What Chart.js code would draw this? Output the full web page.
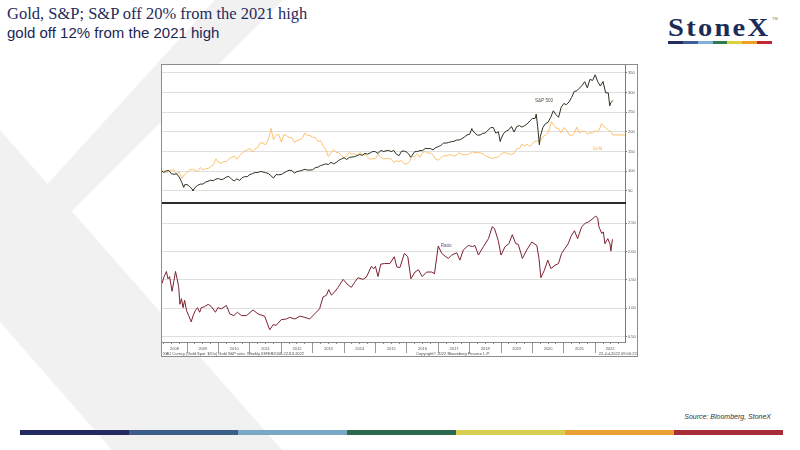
<!DOCTYPE html>
<html>
<head>
<meta charset="utf-8">
<script src="https://cdn.jsdelivr.net/npm/chart.js@4.4.1/dist/chart.umd.min.js"></script>
<style>
html,body{margin:0;padding:0;background:#fff;}
#page{position:relative;width:800px;height:450px;overflow:hidden;background:#fff;font-family:"Liberation Sans",Arial,sans-serif;}
.abs{position:absolute;}
#wm{position:absolute;left:0;top:0;}
#t1{left:7px;top:6px;font-family:"Liberation Serif","Times New Roman",serif;font-size:16.5px;line-height:16.5px;color:#1f2b5b;white-space:nowrap;}
#t2{left:7px;top:25px;font-family:"Liberation Sans",Arial,sans-serif;font-size:15px;line-height:15px;color:#1c2654;white-space:nowrap;}
#logo{left:668px;top:15px;font-family:"Liberation Serif","Times New Roman",serif;font-weight:bold;font-size:25px;line-height:25px;color:#1b2d56;letter-spacing:2px;white-space:nowrap;transform:scaleX(1.14);transform-origin:0 0;}
#tm{left:772px;top:17px;font-size:8px;line-height:8px;color:#777;transform:scale(0.5);transform-origin:0 0;}
.bar{position:absolute;display:flex;}
.bar div{flex:1;height:100%;}
#frame{left:161px;top:64px;width:477px;height:293px;border:1px solid #8c8c8c;box-sizing:border-box;background:#fff;}
#sep{left:162px;top:202px;width:464px;height:2px;background:#2b2b2b;}
.tiny{position:absolute;font-family:"Liberation Sans",Arial,sans-serif;font-size:8px;line-height:8px;color:#4a4a4a;white-space:nowrap;}
#src{right:29px;top:413px;font-size:7px;line-height:7px;font-style:italic;color:#333;white-space:nowrap;}
</style>
</head>
<body>
<div id="page">
  <svg id="wm" width="800" height="450">
    <polygon points="215,0 283,0 0,283 0,236" fill="#f1f1f1"/>
    <polygon points="0,130 282,450 112,450 0,322" fill="#f1f1f1"/>
  </svg>
  <div class="abs" id="t1">Gold, S&amp;P; S&amp;P off 20% from the 2021 high</div>
  <div class="abs" id="t2">gold off 12% from the 2021 high</div>
  <div class="abs" id="logo">StoneX</div>
  <div class="abs" id="tm">TM</div>
  <div class="bar" id="logobar" style="left:668px;top:41px;width:104px;height:3px;"></div>

  <div class="abs" id="frame"></div>
  <div class="abs" style="left:162px;top:65px;"><canvas id="cTop" width="476" height="138"></canvas></div>
  <div class="abs" style="left:162px;top:204px;"><canvas id="cBot" width="476" height="149"></canvas></div>
  <div class="abs" id="sep"></div>

  <div class="tiny" style="left:163px;top:352px;transform:scale(0.5);transform-origin:0 0;">XAU Curncy (Gold Spot &nbsp;$/Oz) Gold S&amp;P ratio &nbsp;Weekly 03FEB2008-22JUL2022</div>
  <div class="tiny" style="left:453px;top:352px;transform:scale(0.5) translateX(-50%);transform-origin:0 0;">Copyright© 2022 Bloomberg Finance L.P.</div>
  <div class="tiny" style="right:163px;top:352px;transform:scale(0.5);transform-origin:100% 0;">22-Jul-2022 09:00:22</div>

  <div class="abs" id="src">Source: Bloomberg, StoneX</div>
  <div class="bar" id="footbar" style="left:20px;top:430px;width:763px;height:5px;"></div>
</div>

<script>
// ---------------- DATA ----------------
// Monthly closes, rebased (first observation = 100), March 2008 .. June 2022
const monthStart = [2008, 3];
const spxMonthly = [
  95.9,100.4,101.4,92.8,91.8,93.0,84.5,70.2,64.9,65.4,
  59.9,53.3,57.8,63.3,66.6,66.6,71.5,74.0,76.6,75.1,79.4,80.8,
  77.8,80.0,84.7,86.0,78.9,74.7,79.9,76.0,82.7,85.7,85.6,91.2,
  93.2,96.2,96.1,98.8,97.5,95.7,93.6,88.3,82.0,90.8,90.4,91.2,
  95.1,99.0,102.0,101.3,94.9,98.7,99.9,102.0,104.4,102.3,102.6,103.3,
  108.6,109.8,113.7,115.8,118.2,116.4,122.2,118.3,121.9,127.3,130.9,133.9,
  129.2,134.7,135.7,136.5,139.4,142.0,139.9,145.1,142.9,146.2,149.9,149.2,
  144.6,152.5,149.9,151.2,152.7,149.5,152.5,142.9,139.1,150.7,150.7,148.1,
  140.6,140.0,149.3,149.6,152.0,152.1,157.5,157.3,157.1,154.1,159.3,162.2,
  165.1,171.3,171.2,172.8,174.8,175.6,179.0,179.1,182.5,186.6,191.9,193.8,
  204.6,196.7,191.4,191.9,196.0,197.0,204.1,210.3,211.2,196.5,200.0,181.7,
  195.9,201.7,205.4,213.5,199.4,213.2,215.9,212.0,215.7,220.1,227.6,234.1,
  233.8,214.1,187.3,211.0,220.6,224.6,237.0,253.6,243.7,237.0,262.5,272.2,
  269.1,276.2,287.9,303.0,304.6,311.4,318.5,327.8,312.2,333.7,330.9,345.4,
  327.2,317.0,328.3,299.4,299.4,274.3
];
// Weekly observations (start, extremes, last)
const spxWeeklyDates  = ['2008-03-12','2008-11-21','2009-03-06','2016-02-12','2018-01-26','2018-12-21','2020-02-14','2020-03-20','2022-06-17','2022-07-22'];
const spxWeeklyValues = [100, 58.0, 49.5, 135.1, 208.2, 175.1, 244.9, 167.0, 266.3, 280.0];

const goldMonthly = [
  101.9,96.0,98.3,103.3,102.0,92.6,97.8,81.1,90.6,96.7,
  103.1,104.8,101.9,98.1,108.9,103.0,106.1,106.1,111.1,115.6,131.1,121.9,
  120.1,124.2,123.7,131.1,135.0,138.3,129.9,138.7,145.2,150.8,154.0,157.9,
  148.0,156.7,159.9,172.9,170.7,166.7,180.9,202.9,180.0,191.3,194.0,173.9,
  193.3,190.1,185.3,184.9,173.3,177.6,179.3,183.1,196.9,191.0,190.4,186.1,
  184.8,175.6,177.6,163.2,154.8,137.1,145.9,155.1,147.4,147.0,139.2,133.6,
  138.2,147.3,142.7,144.0,138.9,147.4,142.4,143.0,135.1,130.1,131.4,131.6,
  142.6,134.8,131.4,131.6,132.2,130.2,121.7,126.1,123.9,126.9,118.3,117.9,
  124.0,137.6,137.0,143.7,135.0,146.9,150.1,145.4,146.2,141.4,130.3,127.3,
  134.6,138.8,138.8,140.9,141.0,138.0,141.0,146.9,142.2,141.2,141.7,144.8,
  149.4,146.4,147.2,146.2,144.3,139.2,136.0,133.4,132.4,135.0,135.8,142.4,
  146.8,145.9,143.6,142.7,145.0,156.6,157.1,168.9,163.6,168.1,162.7,168.6,
  176.6,176.1,175.2,187.4,192.2,197.9,219.4,218.7,209.6,208.8,197.4,210.9,
  205.2,192.7,189.8,196.6,211.9,196.7,201.6,201.6,193.7,198.1,197.1,203.2,
  199.7,212.1,215.2,210.8,204.1,200.8
];
const goldWeeklyDates  = ['2008-03-12','2011-09-02','2020-08-07','2022-03-11','2022-07-22'];
const goldWeeklyValues = [100, 208.6, 226.1, 220.9, 191.9];

// Gold / S&P ratio panel (decimal year, value)
const ratioTimes = [
  2008.20,2008.26,2008.34,2008.39,2008.44,2008.52,2008.58,2008.63,2008.68,2008.73,2008.77,2008.82,2008.87,2008.92,2008.98,
  2009.05,2009.13,2009.19,2009.26,2009.33,2009.40,2009.45,2009.56,2009.67,2009.77,2009.90,2009.98,
  2010.09,2010.25,2010.36,2010.49,2010.60,2010.73,2010.89,
  2011.10,2011.26,2011.47,2011.63,2011.74,2011.84,
  2012.00,2012.16,2012.27,2012.43,2012.59,2012.75,2012.90,
  2013.06,2013.22,2013.33,2013.44,2013.51,2013.60,2013.70,2013.81,2013.97,
  2014.13,2014.23,2014.34,2014.44,2014.60,2014.71,2014.87,2014.95,
  2015.00,2015.08,2015.17,2015.29,2015.46,2015.60,2015.68,2015.78,2015.92,
  2016.03,2016.13,2016.26,2016.37,2016.49,2016.63,2016.79,2016.88,
  2017.00,2017.11,2017.22,2017.32,2017.43,2017.59,2017.69,2017.80,2017.96,
  2018.09,2018.17,2018.28,2018.44,2018.60,2018.72,2018.79,2018.91,
  2019.00,2019.13,2019.25,2019.36,2019.47,2019.55,2019.68,2019.82,2019.98,
  2020.14,2020.21,2020.27,2020.38,2020.49,2020.59,2020.72,2020.83,2020.93,
  2021.04,2021.14,2021.23,2021.34,2021.44,2021.57,2021.68,2021.80,2021.94,
  2022.02,2022.08,2022.12,2022.21,2022.26,2022.31,2022.40,2022.47,2022.50,2022.55
];
const ratioValues = [
  1.44,1.55,1.65,1.52,1.56,1.30,1.49,1.65,1.52,1.38,1.07,1.17,1.01,1.14,0.96,
  0.87,0.76,0.87,0.96,1.01,0.93,1.01,1.03,1.07,1.03,0.93,1.01,
  0.99,1.05,0.90,0.87,0.93,0.87,0.87,
  0.97,0.90,0.86,0.62,0.71,0.70,
  0.80,0.81,0.84,0.81,0.86,0.84,0.81,
  0.90,0.99,1.20,1.23,1.33,1.23,1.29,1.37,1.51,
  1.41,1.37,1.46,1.54,1.51,1.55,1.74,1.70,
  1.74,1.56,1.78,1.79,1.79,1.91,1.73,1.72,1.97,
  1.91,1.52,1.64,1.68,1.56,1.64,1.64,1.61,
  2.10,1.97,1.92,1.88,1.94,1.98,1.85,2.03,2.11,
  2.09,2.11,1.94,2.09,2.23,2.44,2.41,2.20,
  1.94,2.09,2.14,2.30,2.14,2.13,1.88,2.03,2.17,
  2.11,1.88,1.54,1.67,1.85,1.70,1.76,1.79,1.97,
  2.06,2.14,2.27,2.37,2.23,2.44,2.50,2.53,2.59,
  2.63,2.59,2.44,2.32,2.35,2.14,2.23,2.14,2.01,2.22
];

// Axis tick values / labels
const topTicks = [50,100,150,200,250,300,350];
const botTicks = [0.5,1.0,1.5,2.0,2.5];
const yearLabels = ['2008','2009','2010','2011','2012','2013','2014','2015','2016','2017','2018','2019','2020','2021','2022'];

// ---------------- HELPERS ----------------
function toYear(s){
  const p = s.split('-').map(Number);
  if (p.length === 2) return p[0] + p[1]/12;
  return p[0] + (p[1]-1)/12 + p[2]/365;
}
function buildSeries(monthly, wDates, wValues){
  const pts = monthly.map((v,i)=>{
    const m = monthStart[1] - 1 + i;
    const y = monthStart[0] + Math.floor(m/12);
    const mm = (m % 12) + 1;
    return {x: y + mm/12, y: v};
  });
  wDates.forEach((d,i)=>pts.push({x: toYear(d), y: wValues[i]}));
  pts.sort((a,b)=>a.x-b.x);
  return pts;
}
const spxPts = buildSeries(spxMonthly, spxWeeklyDates, spxWeeklyValues);
const goldPts = buildSeries(goldMonthly, goldWeeklyDates, goldWeeklyValues);
const ratioPts = ratioTimes.map((t,i)=>({x:t, y:ratioValues[i]}));

const T0 = toYear(spxWeeklyDates[0]) - 0.0005;
const T1 = 2022.95;
const lastGold = goldPts[goldPts.length-1];
const goldLastPts = [{x:lastGold.x, y:lastGold.y},{x:T1, y:lastGold.y}];

// Year separator ticks and label (mid-segment) ticks
const yearBounds = [];
for (let y = 2009; y <= 2022; y++) yearBounds.push(y);
const labelPos = yearLabels.map((l,i)=>{
  const y = Number(l);
  const a = Math.max(y, T0), b = Math.min(y+1, T1);
  return (a+b)/2;
});
const quarterTicks = [];
for (let q = 2008.25; q < T1; q += 0.25) if (q > T0) quarterTicks.push(q);

const FONT = '"Liberation Sans", Arial, sans-serif';

// ---------------- series name labels ----------------
const seriesLabelPlugin = {
  id:'seriesLabels',
  afterDatasetsDraw(chart, args, opts){
    const ctx = chart.ctx, xs = chart.scales.x, ys = chart.scales.y;
    ctx.save();
    ctx.font = '4.6px ' + FONT;
    ctx.textAlign = 'center';
    ctx.textBaseline = 'middle';
    (opts.items||[]).forEach(it=>{
      ctx.fillStyle = it.color;
      ctx.fillText(it.text, xs.getPixelForValue(it.t), ys.getPixelForValue(it.v));
    });
    ctx.restore();
  }
};

function rightAxis(min, max, ticks, fmt){
  return {
    type:'linear', position:'right', min:min, max:max,
    afterBuildTicks: s => { s.ticks = ticks.map(v=>({value:v})); },
    afterFit: s => { s.width = 13; s.paddingTop = 0; s.paddingBottom = 0; },
    grid:{color:'#dfdfdf', lineWidth:1, drawTicks:true, tickLength:2, tickColor:'#7a7a7a'},
    border:{display:true, color:'#7a7a7a', width:1},
    ticks:{font:{size:4, family:FONT}, color:'#555', padding:1, callback: fmt}
  };
}

const common = {
  responsive:false, animation:false, events:[],
  layout:{padding:0},
  elements:{point:{radius:0}, line:{tension:0}}
};

new Chart(document.getElementById('cTop'), {
  type:'line',
  data:{datasets:[
    {label:'S&P 500', data:spxPts, borderColor:'#27321f', borderWidth:1, pointRadius:0},
    {label:'Gold', data:goldPts, borderColor:'#fcc16e', borderWidth:1, pointRadius:0},
    {label:'Gold last', data:goldLastPts, borderColor:'#fcc16e', borderWidth:1, pointRadius:0}
  ]},
  options:Object.assign({}, common, {
    plugins:{legend:{display:false}, tooltip:{enabled:false},
      seriesLabels:{items:[
        {text:'S&P 500', t:2020.37, v:278, color:'#4e5940'},
        {text:'Gold', t:2022.07, v:157, color:'#f7b866'}
      ]}},
    scales:{
      x:{type:'linear', min:T0, max:T1, display:false},
      y:rightAxis(18.4, 370.4, topTicks, v=>String(v))
    }
  }),
  plugins:[seriesLabelPlugin]
});

new Chart(document.getElementById('cBot'), {
  type:'line',
  data:{datasets:[
    {label:'Ratio', data:ratioPts, borderColor:'#7c2230', borderWidth:1, pointRadius:0}
  ]},
  options:Object.assign({}, common, {
    plugins:{legend:{display:false}, tooltip:{enabled:false},
      seriesLabels:{items:[{text:'Ratio', t:2017.25, v:2.10, color:'#55558a'}]}},
    scales:{
      x:{type:'linear', min:T0, max:T1, position:'bottom', weight:0,
         afterBuildTicks: s => { s.ticks = quarterTicks.map(v=>({value:v})); },
         afterFit: s => { s.height = 2; s.paddingLeft = 0; s.paddingRight = 0; },
         grid:{drawOnChartArea:false, drawTicks:true, tickLength:2, tickColor:'#8a8a8a'},
         border:{display:true, color:'#8a8a8a'},
         ticks:{display:false}
      },
      xYears:{type:'linear', min:T0, max:T1, position:'bottom', weight:1,
         afterBuildTicks: s => { s.ticks = yearBounds.concat(labelPos).sort((a,b)=>a-b).map(v=>({value:v})); },
         afterFit: s => { s.height = 9; s.paddingLeft = 0; s.paddingRight = 0; },
         grid:{drawOnChartArea:false, drawTicks:true, tickLength:9,
               tickColor: c => (c.tick && Number.isInteger(c.tick.value)) ? '#9a9a9a' : 'rgba(0,0,0,0)'},
         border:{display:false},
         ticks:{autoSkip:false, maxRotation:0, minRotation:0, padding:-7, font:{size:4, family:FONT}, color:'#555',
                callback: v => Number.isInteger(v) ? '' : yearLabels[labelPos.findIndex(p=>Math.abs(p-v)<1e-6)]}
      },
      y:rightAxis(0.404, 2.842, botTicks, v=>v.toFixed(2))
    }
  }),
  plugins:[seriesLabelPlugin]
});

// colour bars
const barColors = ['#232b5e','#3b5d88','#7ba7c6','#2c6a4d','#d9ce52','#eaa133','#a72d37'];
const logoColors = ['#232c5e','#3d5e99','#80b0d6','#2f7a50','#dcd23c','#f0a020','#c0283a'];
barColors.forEach(c=>{const d=document.createElement('div');d.style.background=c;document.getElementById('footbar').appendChild(d);});
logoColors.forEach(c=>{const d=document.createElement('div');d.style.background=c;document.getElementById('logobar').appendChild(d);});
</script>
</body>
</html>
